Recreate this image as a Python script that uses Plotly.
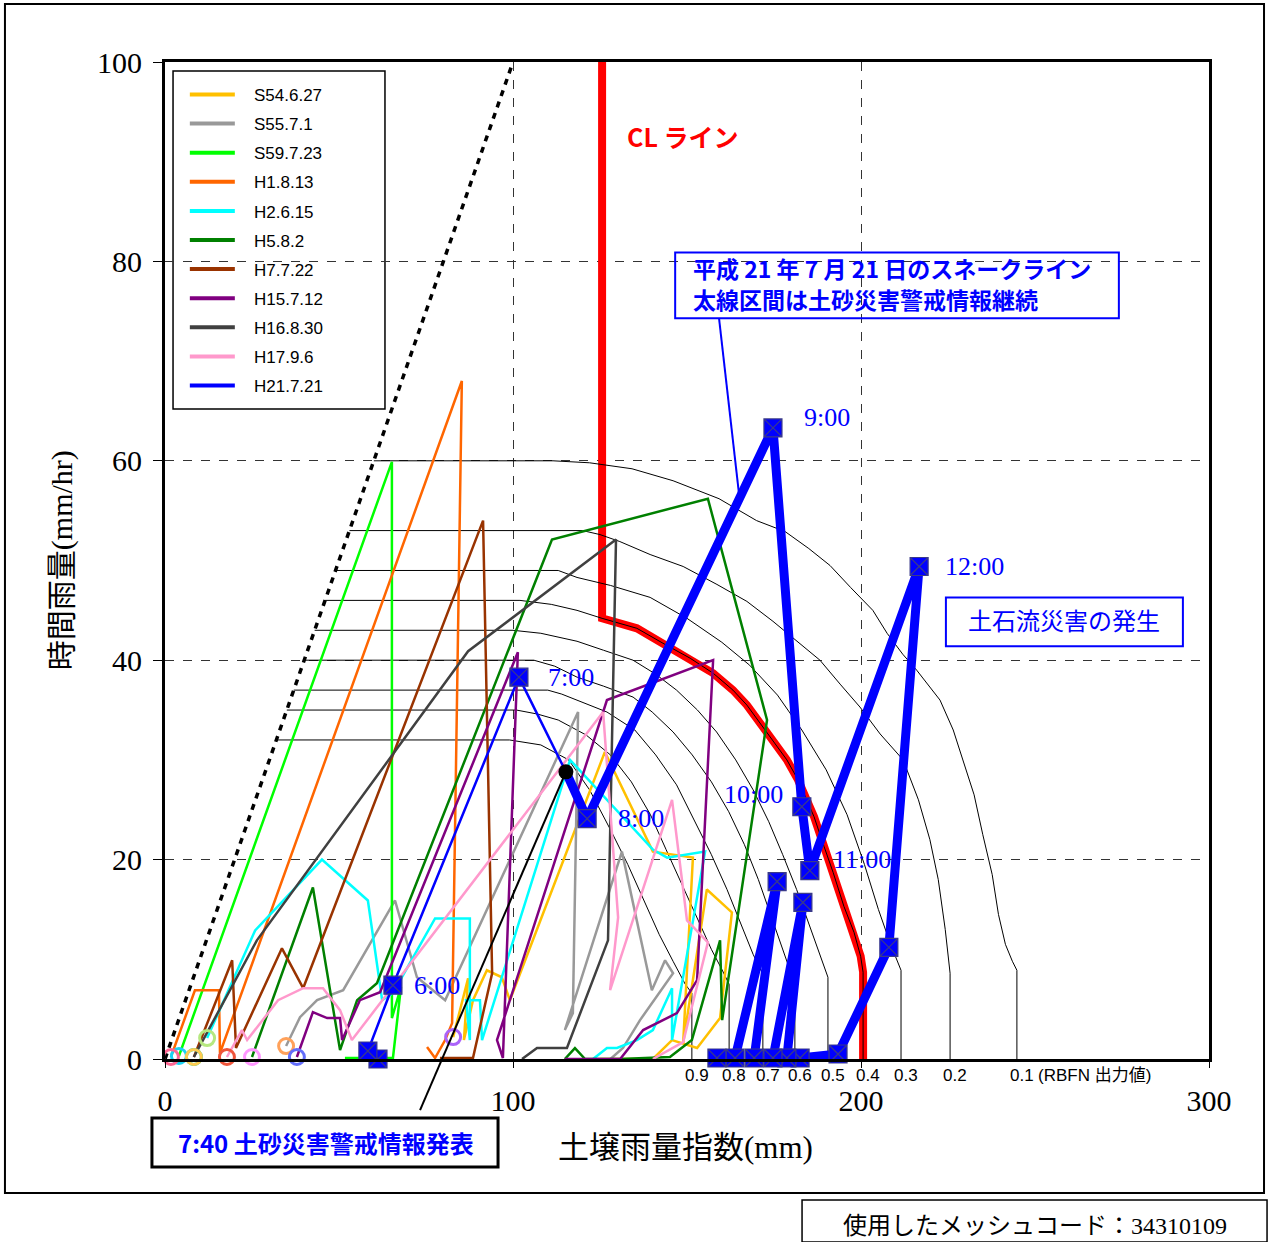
import plotly.graph_objects as go

# ---------------- data ----------------
X_TICKS = [0, 100, 200, 300]
Y_TICKS = [0, 20, 40, 60, 80, 100]

SERIES_NAMES = ["S54.6.27", "S55.7.1", "S59.7.23", "H1.8.13", "H2.6.15", "H5.8.2",
                "H7.7.22", "H15.7.12", "H16.8.30", "H17.9.6", "H21.7.21"]
SERIES_COLORS = ["#FFC000", "#999999", "#00FF00", "#FF6600", "#00FFFF", "#008000",
                 "#993300", "#800080", "#404040", "#FF99CC", "#0000FF"]

S54_X = [82.8, 87.1, 85.9, 88.5, 92.5, 96.8, 99.1, 126.4, 140.2, 151.7, 148.9, 155.7, 162.9, 159.5, 152.9, 145.7, 140.2, 125.0]
S54_Y = [2.2, 8.1, 1.9, 5.9, 8.9, 8.2, 5.9, 30.8, 20.8, 20.2, 1.6, 17.0, 14.7, 4.1, 1.1, 1.9, 0.0, 0.0]

S55_X = [34.8, 38.8, 43.7, 51.2, 66.1, 72.4, 80.5, 118.7, 117.2, 114.9, 131.3, 139.9, 143.7, 146.0, 136.5, 131.6, 128.0]
S55_Y = [1.3, 4.2, 5.9, 6.9, 15.9, 8.2, 5.9, 34.8, 4.6, 2.9, 20.8, 6.9, 9.9, 8.6, 3.9, 1.1, 0.0]

S59_X = [4.0, 65.2, 65.2, 67.8, 65.5, 56.0, 51.7]
S59_Y = [0.3, 59.9, 4.1, 7.2, 0.1, 0.1, 0.1]

H1_X = [1.7, 8.6, 15.5, 15.8, 85.3, 82.5, 80.5, 77.6, 75.3]
H1_Y = [0.2, 6.9, 6.9, 0.6, 68.0, 3.6, 1.9, 0.1, 1.2]

H2_X = [12.1, 25.9, 45.1, 58.3, 62.4, 65.5, 77.6, 87.6, 87.6, 86.5, 90.5, 91.1, 116.4, 140.2, 144.3, 155.2, 145.7, 145.7, 140.2, 135.6, 129.9, 127.0, 123.0]
H2_Y = [2.1, 12.9, 20.0, 15.9, 5.9, 6.6, 14.1, 14.1, 1.9, 5.9, 5.9, 1.9, 30.0, 21.0, 20.2, 20.8, 1.9, 7.1, 2.9, 1.9, 1.1, 1.1, 0.0]

H5_X = [25.0, 42.5, 50.3, 55.2, 60.9, 111.2, 156.0, 173.0, 160.1, 159.5, 151.4, 145.1, 130.8, 120.7, 117.8, 114.9]
H5_Y = [0.2, 17.2, 0.9, 5.9, 7.6, 52.1, 56.2, 34.0, 3.9, 11.9, 1.9, 0.2, 0.0, 0.0, 1.1, 0.0]

H7_X = [8.3, 19.3, 20.4, 33.6, 39.7, 91.4, 94.0, 88.5, 79.0]
H7_Y = [0.2, 9.9, 1.1, 11.1, 7.1, 54.0, 8.6, 0.1, 0.1]

H15_X = [37.9, 42.5, 46.6, 50.3, 50.9, 56.0, 61.8, 101.4, 97.1, 95.4, 127.0, 157.5, 152.9, 147.1, 137.4, 130.8, 114.9]
H15_Y = [0.2, 4.7, 4.1, 4.1, 1.9, 5.9, 6.7, 40.8, 0.1, 1.9, 36.0, 40.0, 7.9, 4.6, 2.9, 0.0, 0.0]

H16_X = [8.3, 26.4, 87.1, 129.6, 127.3, 115.5, 106.9, 102.6]
H16_Y = [0.2, 11.9, 40.9, 52.1, 11.9, 1.1, 1.1, 0.0]

H17_X = [17.8, 22.1, 23.6, 32.5, 39.7, 45.4, 50.3, 53.7, 125.9, 130.2, 127.9, 145.7, 150.0, 156.0, 148.9, 140.2]
H17_Y = [0.2, 2.9, 1.9, 5.9, 7.1, 7.1, 4.9, 1.9, 34.8, 14.2, 6.9, 26.0, 13.9, 11.7, 1.7, 0.0]

# H21.7.21 hourly points (snake line)
H21_X = [61.2, 58.3, 65.5, 101.7, 121.3, 174.7, 183.0, 185.3, 216.7, 208.0, 193.4, 182.5, 178.7, 183.3, 174.7, 169.3, 175.9, 163.8, 158.6]
H21_Y = [0.0, 0.8, 7.4, 38.3, 24.1, 63.3, 25.3, 18.9, 49.4, 11.2, 0.5, 0.1, 0.1, 15.7, 0.1, 0.1, 17.8, 0.1, 0.1]
H21_TIMES = ["", "", "6:00", "7:00", "8:00", "9:00", "10:00", "11:00", "12:00", "", "", "", "", "", "", "", "", "", ""]
ALERT_X = 115.2   # 7:40 warning issued
ALERT_Y = 28.8

# CL line
CL_X = [125.6, 125.6, 135.6, 143.1, 150.9, 157.5, 163.2, 167.2, 171.0, 174.7, 178.7, 181.9, 186.5, 189.4, 192.0, 195.1, 198.0, 199.9, 200.6, 200.6]
CL_Y = [100.0, 44.2, 43.2, 41.7, 40.2, 38.7, 37.0, 35.5, 33.7, 32.0, 30.0, 28.0, 24.3, 21.3, 18.7, 15.3, 12.7, 10.3, 8.7, 0.0]

# RBFN output contours
RBFN_LEVELS = ["0.9", "0.8", "0.7", "0.6", "0.5", "0.4", "0.3", "0.2", "0.1"]
C09_X = [32, 99, 108, 116, 122, 128, 133, 137.5, 142, 146, 149.5, 151.4, 151.4]
C09_Y = [32, 32, 31.5, 30, 27, 23, 19.5, 16, 12.5, 9.8, 7.5, 6.6, 0]
C08_X = [35, 101, 107, 113, 121, 128, 134, 139.5, 144, 148.5, 153, 157, 160, 162.1, 162.1]
C08_Y = [35, 35, 34.6, 34, 32.5, 30.5, 27.8, 24.5, 21, 17.5, 14, 11, 9, 7.5, 0]
C07_X = [37, 110, 114, 119, 127, 135, 141, 147, 152, 157, 161.5, 165.5, 169, 171.8, 171.8]
C07_Y = [37, 37, 36.6, 35.9, 34.8, 33, 30.5, 27.5, 24, 20.5, 17, 13.5, 10.5, 8.5, 0]
C06_X = [40, 106, 112, 118.4, 126, 134.5, 140, 146, 151.5, 157, 162, 166.5, 170.5, 174, 177.5, 179.5, 181, 181]
C06_Y = [40, 40, 39.4, 38.3, 37.4, 36.3, 34.8, 32.8, 30.5, 27.8, 24.8, 21.5, 18, 14.5, 11, 9, 8, 0]
C05_X = [43, 100, 108, 118.4, 126, 134.5, 141, 147, 153, 158.5, 164, 169, 173.5, 177.5, 181.5, 185, 188, 190.5, 190.5]
C05_Y = [43, 43, 42.7, 41.9, 41, 40, 38.6, 37, 35, 32.8, 30, 27, 23.8, 20.5, 17, 13.5, 10.5, 8.2, 0]
C04_X = [46, 102, 111, 118.4, 125.6, 135.6, 143.1, 150.9, 157.5, 163.2, 167.2, 171.0, 174.7, 178.7, 181.9, 186.5, 189.4, 192, 195.1, 198, 199.9, 200.6, 200.6]
C04_Y = [46, 46, 45.6, 45.0, 44.2, 43.2, 41.7, 40.2, 38.7, 37.0, 35.5, 33.7, 32.0, 30.0, 28.0, 24.3, 21.3, 18.7, 15.3, 12.7, 10.3, 8.7, 0]
C03_X = [49, 113, 118.4, 128, 139.4, 150, 160, 168, 176, 183, 190, 196, 201, 205, 208.5, 210.5, 211.5, 211.5]
C03_Y = [49, 49, 48.3, 47.5, 46.3, 44.2, 41.8, 39.5, 36.5, 33, 29, 24.5, 19.5, 15, 11.5, 9.8, 8.9, 0]
C02_X = [53, 120, 125, 130.7, 139.4, 148.9, 158.6, 167.2, 174.7, 180.5, 188.2, 194, 199.7, 205.5, 212.1, 216.5, 219.8, 222.2, 224.2, 225.6, 225.6]
C02_Y = [53, 53, 52.6, 51.9, 50.6, 49.4, 47.6, 45.9, 43.9, 42.2, 40, 37.6, 35.3, 32.6, 30, 26, 22, 18, 13, 8.6, 0]
C01_X = [60, 111.5, 122, 134.2, 146, 159.2, 170, 178.2, 185, 191.1, 197, 203.4, 207.5, 212, 216, 222.7, 226.5, 229.3, 232.5, 235, 237.7, 239.5, 241.5, 243.5, 244.8, 244.8]
C01_Y = [60, 60, 59.8, 59.2, 58, 56.2, 54, 52.9, 51.2, 49.5, 47.3, 45, 42.7, 40.6, 39, 36, 33, 30, 26.5, 22.5, 18.5, 14.5, 11.5, 9.8, 8.9, 0]

# upper limit line (dotted)
LIMIT_X = [0, 100]
LIMIT_Y = [0, 100]

# note text lines
NOTE_LINES = ["平成 21 年 7 月 21 日のスネークライン", "太線区間は土砂災害警戒情報継続"]

# ---------------- figure ----------------
SERIF = "Liberation Serif, Noto Sans CJK JP, serif"
GOTHIC = "Noto Sans CJK JP, sans-serif"
BLUE = "#0000FF"
NBSP = "\u00a0"

fig = go.Figure()

# legend entries
for name, color in zip(SERIES_NAMES, SERIES_COLORS):
    fig.add_trace(go.Scatter(x=[None], y=[None], mode="lines", name=NBSP * 3 + name, legendgroup=name,
                             line=dict(color=color, width=4), showlegend=True))

# CL line (red)
fig.add_trace(go.Scatter(x=CL_X, y=CL_Y, mode="lines", line=dict(color="#FF0000", width=8),
                         showlegend=False, hoverinfo="skip"))

# contours
contours = [(C09_X, C09_Y), (C08_X, C08_Y), (C07_X, C07_Y), (C06_X, C06_Y), (C05_X, C05_Y),
            (C04_X, C04_Y), (C03_X, C03_Y), (C02_X, C02_Y), (C01_X, C01_Y)]
for cx, cy in contours:
    fig.add_trace(go.Scatter(x=cx, y=cy, mode="lines", line=dict(color="black", width=1),
                             showlegend=False, hoverinfo="skip"))

# dotted limit line
fig.add_trace(go.Scatter(x=LIMIT_X, y=LIMIT_Y, mode="lines",
                         line=dict(color="black", width=3.5, dash="6px,6px"),
                         showlegend=False, hoverinfo="skip"))

series = [(S54_X, S54_Y), (S55_X, S55_Y), (S59_X, S59_Y), (H1_X, H1_Y), (H2_X, H2_Y),
          (H5_X, H5_Y), (H7_X, H7_Y), (H15_X, H15_Y), (H16_X, H16_Y), (H17_X, H17_Y)]
for (sx, sy), color in zip(series, SERIES_COLORS):
    fig.add_trace(go.Scatter(x=sx, y=sy, mode="lines", line=dict(color=color, width=2.5),
                             showlegend=False, hoverinfo="skip"))

# start circles (H16 first so that H7 sits on top)
circle_order = [8, 0, 1, 2, 3, 4, 5, 6, 7, 9]
for i in circle_order:
    sx, sy = series[i]
    fig.add_trace(go.Scatter(x=[sx[0]], y=[sy[0]], mode="markers", cliponaxis=False,
                             marker=dict(symbol="circle-open", size=15,
                                         line=dict(color=SERIES_COLORS[i], width=3)),
                             showlegend=False, hoverinfo="skip"))

# H21 snake line: thin until warning, thick afterwards
fig.add_trace(go.Scatter(x=H21_X[:4] + [ALERT_X], y=H21_Y[:4] + [ALERT_Y], mode="lines",
                         line=dict(color=BLUE, width=2.5), showlegend=False, hoverinfo="skip"))
fig.add_trace(go.Scatter(x=[ALERT_X] + H21_X[4:], y=[ALERT_Y] + H21_Y[4:], mode="lines",
                         line=dict(color=BLUE, width=9), showlegend=False, hoverinfo="skip"))
fig.add_trace(go.Scatter(x=H21_X, y=H21_Y, mode="markers", cliponaxis=False,
                         marker=dict(symbol="square-x", size=18, color=BLUE,
                                     line=dict(color="#3a3a8a", width=1.2)),
                         showlegend=False, hoverinfo="skip"))
fig.add_trace(go.Scatter(x=[ALERT_X], y=[ALERT_Y], mode="markers",
                         marker=dict(symbol="circle", size=15, color="black"),
                         showlegend=False, hoverinfo="skip"))

# ---------------- annotations ----------------
ann = []
label_offsets = {"6:00": (19, 0, "left"), "7:00": (27, 0, "left"), "8:00": (29, 0, "left"),
                 "9:00": (29, 10, "left"), "10:00": (-17, 12, "right"),
                 "11:00": (21, 11, "left"), "12:00": (24, 0, "left")}
for x, y, t in zip(H21_X, H21_Y, H21_TIMES):
    if t:
        dx, dy, anchor = label_offsets[t]
        ann.append(dict(x=x, y=y, xref="x", yref="y", text=t, showarrow=False,
                        xanchor=anchor, yanchor="middle", xshift=dx, yshift=dy,
                        font=dict(family=SERIF, size=26, color=BLUE)))

# RBFN level labels at the foot of each contour
for (cx, cy), lev in zip(contours, RBFN_LEVELS):
    ann.append(dict(x=cx[-1], y=-0.017, xref="x", yref="paper", text=lev, showarrow=False,
                    xanchor="center", yanchor="middle", xshift=5,
                    font=dict(family="Liberation Sans, sans-serif", size=17, color="black")))
ann.append(dict(x=C01_X[-1], y=-0.017, xref="x", yref="paper", text="(RBFN 出力値)",
                showarrow=False, xanchor="left", yanchor="middle", xshift=19,
                font=dict(family="Liberation Sans, Noto Sans CJK JP", size=17, color="black")))

# axis titles
ann.append(dict(x=-0.099, y=0.5, xref="paper", yref="paper", text="時間雨量(mm/hr)",
                textangle=-90, showarrow=False, xanchor="center", yanchor="middle",
                font=dict(family=SERIF, size=30, color="black")))
ann.append(dict(x=0.499, y=-0.089, xref="paper", yref="paper", text="土壌雨量指数(mm)",
                showarrow=False, xanchor="center", yanchor="middle",
                font=dict(family=SERIF, size=31, color="black")))

# CL label
ann.append(dict(x=132.2, y=92.6, xref="x", yref="y", text="<b>CL ライン</b>", showarrow=False,
                xanchor="left", yanchor="middle", font=dict(family=GOTHIC, size=25, color="#FF0000")))

# snake line note (two lines)
for line_text, ly in zip(NOTE_LINES, [79.3, 76.2]):
    ann.append(dict(x=151.2, y=ly, xref="x", yref="y", text="<b>" + line_text + "</b>",
                    showarrow=False, xanchor="left", yanchor="middle",
                    font=dict(family=GOTHIC, size=23, color=BLUE)))

# debris flow occurrence
ann.append(dict(x=258.4, y=43.85, xref="x", yref="y", text="土石流災害の発生", showarrow=False,
                xanchor="center", yanchor="middle", font=dict(family=SERIF, size=24, color=BLUE)))

# 7:40 warning issued
ann.append(dict(x=0.1538, y=-0.0838, xref="paper", yref="paper",
                text="<b>7:40 土砂災害警戒情報発表</b>", showarrow=False,
                xanchor="center", yanchor="middle", font=dict(family=GOTHIC, size=24, color=BLUE)))

# mesh code
ann.append(dict(x=0.8330, y=-0.1675, xref="paper", yref="paper",
                text="使用したメッシュコード：34310109", showarrow=False,
                xanchor="center", yanchor="middle", font=dict(family=SERIF, size=24, color="black")))

# ---------------- shapes ----------------
shapes = [
    # outer frame
    dict(type="rect", xref="paper", yref="paper", x0=-0.1533, x1=1.0527, y0=-0.1344, y1=1.0582,
         line=dict(color="black", width=2)),
    # legend frame
    dict(type="rect", xref="paper", yref="paper", x0=0.0077, x1=0.2107, y0=0.6520, y1=0.9910,
         line=dict(color="black", width=1.5), fillcolor="white", layer="below"),
    # note box
    dict(type="rect", xref="x", yref="y", x0=146.6, x1=274.1, y0=74.3, y1=80.9,
         line=dict(color=BLUE, width=2)),
    dict(type="line", xref="x", yref="y", x0=159.2, y0=74.3, x1=164.9, y1=56.8,
         line=dict(color=BLUE, width=2)),
    # debris flow box
    dict(type="rect", xref="x", yref="y", x0=224.4, x1=292.5, y0=41.4, y1=46.3,
         line=dict(color=BLUE, width=2)),
    # 7:40 box and leader to the warning point
    dict(type="rect", xref="paper", yref="paper", x0=-0.0125, x1=0.3190, y0=-0.1083, y1=-0.0592,
         line=dict(color="black", width=3)),
    dict(type="line", xref="paper", yref="paper", x0=0.2443, y0=-0.0512,
         x1=ALERT_X / 300, y1=ALERT_Y / 100, line=dict(color="black", width=2)),
    # mesh code box
    dict(type="rect", xref="paper", yref="paper", x0=0.6102, x1=1.0556, y0=-0.1836, y1=-0.1414,
         line=dict(color="black", width=1.5)),
]

fig.update_layout(
    width=1271, height=1242,
    margin=dict(l=165, r=62, t=62, b=183),
    paper_bgcolor="white", plot_bgcolor="white",
    showlegend=True,
    legend=dict(x=0.019, y=0.985, xanchor="left", yanchor="top", bgcolor="rgba(0,0,0,0)",
                borderwidth=0, font=dict(family="Liberation Sans, sans-serif", size=17, color="black"),
                itemwidth=45, tracegroupgap=4, traceorder="grouped"),
    xaxis=dict(range=[0, 300], tickvals=X_TICKS, ticks="outside", ticklen=6, tickcolor="black",
               showgrid=True, gridcolor="#333333", gridwidth=1, griddash="dash",
               showline=True, linecolor="black", linewidth=3, mirror=True, zeroline=False,
               ticklabelstandoff=7, tickfont=dict(family=SERIF, size=30, color="black")),
    yaxis=dict(range=[0, 100], tickvals=Y_TICKS, ticks="outside", ticklen=9, tickcolor="black",
               showgrid=True, gridcolor="#333333", gridwidth=1, griddash="dash",
               showline=True, linecolor="black", linewidth=3, mirror=True, zeroline=False,
               ticklabelstandoff=5, tickfont=dict(family=SERIF, size=30, color="black")),
    annotations=ann,
    shapes=shapes,
)

fig.write_html("out.html")
